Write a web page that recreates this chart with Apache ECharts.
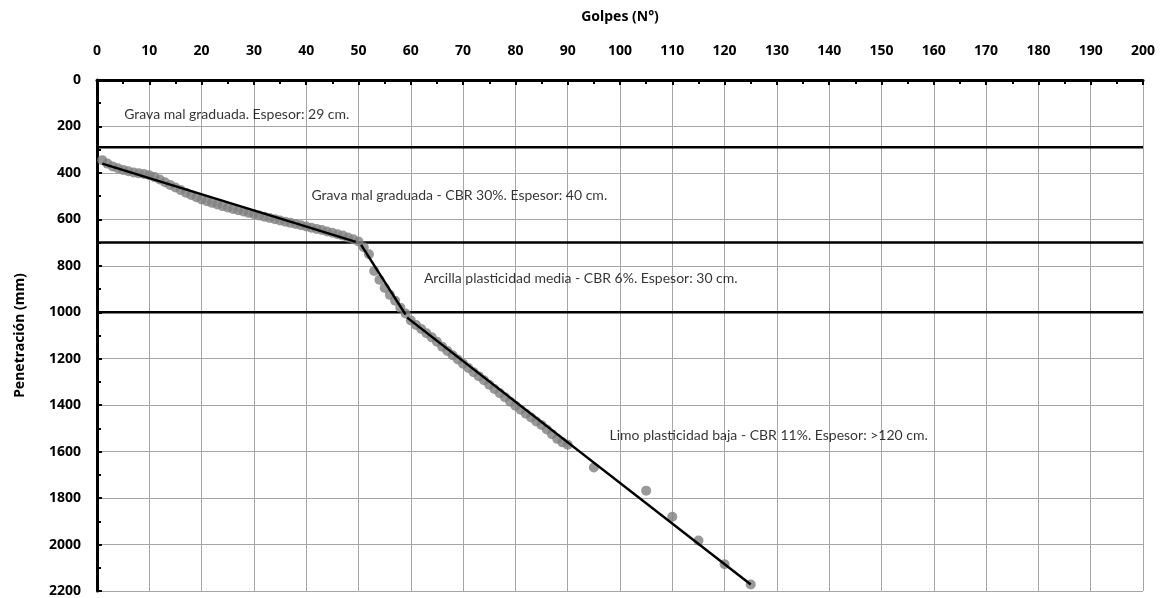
<!DOCTYPE html>
<html>
<head>
<meta charset="utf-8">
<script src="https://cdn.jsdelivr.net/npm/echarts@6/dist/echarts.min.js"></script>
<style>
html,body{margin:0;padding:0;background:#fff;}
#chart{width:1165px;height:598px;}
</style>
</head>
<body>
<div id="chart"></div>
<script>
// Measured points: blows (Golpes) and penetration (mm)
const blows = [1,2,3,4,5,6,7,8,9,10,11,12,13,14,15,16,17,18,19,20,21,22,23,24,25,26,27,28,29,30,
  31,32,33,34,35,36,37,38,39,40,41,42,43,44,45,46,47,48,49,50,
  51,52,53,54,55,56,57,58,59,
  60,61,62,63,64,65,66,67,68,69,70,71,72,73,74,75,76,77,78,79,80,81,82,83,84,85,86,87,88,89,90,
  95,105,110,115,120,125];
const penetration = [345,360,372,380,387,393,398,402,405,410,418,428,440,452,463,474,485,495,505,514,
  522,529,536,543,549,555,561,566,572,578,583,589,594,599,605,610,615,620,625,631,636,641,646,652,658,664,670,678,686,695,
  720,750,822,860,895,925,950,980,1005,
  1035,1055,1072,1090,1108,1127,1148,1167,1185,1203,1222,1240,1258,1275,1293,1312,1330,1348,1366,1385,1402,1420,1437,1453,1470,1485,1505,1525,1545,1560,1570,
  1668,1768,1880,1983,2085,2172];

// Trend line segments (x pairs, y pairs)
const trend1X = [1, 49.5];   const trend1Y = [360, 697];
const trend2X = [50.5, 59];  const trend2Y = [710, 1010];
const trend3X = [59.3, 125]; const trend3Y = [1023, 2172];

// Layer boundaries (mm)
const layerDepths = [290, 700, 1000];

// Layer labels
const layerLabels = [
  "Grava mal graduada. Espesor: 29 cm.",
  "Grava mal graduada - CBR 30%. Espesor: 40 cm.",
  "Arcilla plasticidad media - CBR 6%. Espesor: 30 cm.",
  "Limo plasticidad baja - CBR 11%. Espesor: >120 cm."
];
const labelX = [5.2, 41, 62.5, 98];
const labelY = [150, 499, 856, 1531];

const xTitle = "Golpes (N°)";
const yTitle = "Penetración (mm)";

const textFont = "Lato, 'Noto Sans', sans-serif";
const boldFont = "'Noto Sans', 'Liberation Sans', sans-serif";

const pts = blows.map((b,i)=>[b, penetration[i]]);
const seg = (xs, ys) => xs.map((x,i)=>[x, ys[i]]);

const series = [];
layerDepths.forEach(d => {
  series.push({type:'line', data:[[0,d],[200,d]], symbol:'none', silent:true,
    lineStyle:{color:'#000', width:2.5}, z:3});
});
series.push({type:'scatter', data:pts, symbolSize:10, itemStyle:{color:'#808080'}, z:4});
[[trend1X,trend1Y],[trend2X,trend2Y],[trend3X,trend3Y]].forEach(([xs,ys])=>{
  series.push({type:'line', data:seg(xs,ys), symbol:'none', lineStyle:{color:'#000', width:2.5}, z:5});
});
series.push({type:'scatter', symbolSize:0, silent:true, z:6,
  data: layerLabels.map((t,i)=>({value:[labelX[i], labelY[i]], name:t})),
  label:{show:true, position:'right', distance:0, formatter:p=>p.name,
    color:'#000', fontSize:14, fontFamily:textFont}
});

const chart = echarts.init(document.getElementById('chart'), null, {renderer:'canvas'});
chart.setOption({
  animation:false,
  backgroundColor:'#fff',
  grid:{left:97, top:80, right:22, bottom:6, containLabel:false},
  xAxis:{type:'value', position:'top', min:0, max:200, interval:10,
    name:xTitle, nameLocation:'middle', nameGap:56,
    nameTextStyle:{fontWeight:'bold', fontSize:14, color:'#000', fontFamily:boldFont},
    axisLine:{show:true, lineStyle:{color:'#000', width:3}},
    axisTick:{show:true, inside:true, length:5, lineStyle:{color:'#000', width:2}},
    minorTick:{show:true, splitNumber:2, length:4, lineStyle:{color:'#000', width:2}},
    axisLabel:{fontWeight:'bold', fontSize:14, color:'#000', fontFamily:boldFont, margin:22},
    splitLine:{show:true, lineStyle:{color:'#a6a6a6', width:1}}
  },
  yAxis:{type:'value', inverse:true, min:0, max:2200, interval:200,
    name:yTitle, nameLocation:'middle', nameGap:70, nameRotate:90,
    nameTextStyle:{fontWeight:'bold', fontSize:14, color:'#000', fontFamily:boldFont},
    axisLine:{show:true, lineStyle:{color:'#000', width:3}},
    axisTick:{show:true, inside:true, length:5, lineStyle:{color:'#000', width:2}},
    minorTick:{show:true, splitNumber:2, length:4, lineStyle:{color:'#000', width:2}},
    axisLabel:{fontWeight:'bold', fontSize:14, color:'#000', fontFamily:boldFont, margin:16,
      formatter: v => String(v)},
    splitLine:{show:true, lineStyle:{color:'#a6a6a6', width:1}}
  },
  series:series
});
</script>
</body>
</html>
